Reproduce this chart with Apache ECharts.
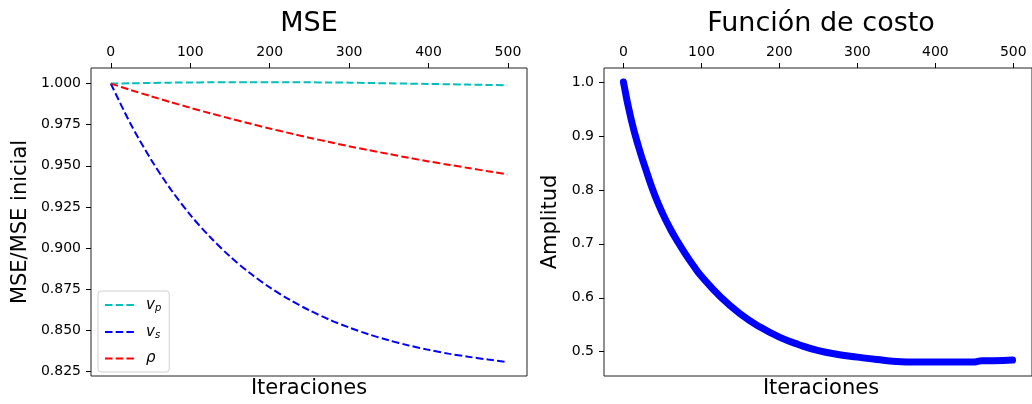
<!DOCTYPE html>
<html>
<head>
<meta charset="utf-8">
<script src="https://cdn.jsdelivr.net/npm/echarts@6/dist/echarts.min.js"></script>
<style>
  html, body { margin: 0; padding: 0; background: #fff; }
  #chart { width: 1032px; height: 404px; }
</style>
</head>
<body>
<div id="chart"></div>
<script>
// ---- data ----
const xTicks = [0, 100, 200, 300, 400, 500];
const yTicksLeft = [0.825, 0.850, 0.875, 0.900, 0.925, 0.950, 0.975, 1.000];
const yTicksRight = [0.5, 0.6, 0.7, 0.8, 0.9, 1.0];

const iterLeft = [0, 25, 50, 75, 100, 125, 150, 175, 200, 225, 250, 275, 300, 325, 350, 375, 400, 425, 450, 475, 499];
const vpVals  = [1.0000, 1.0002, 1.0004, 1.0006, 1.0007, 1.0008, 1.0009, 1.0009, 1.0009, 1.0009, 1.0008, 1.0007, 1.0006, 1.0004, 1.0002, 1.0000, 0.9998, 0.9996, 0.9994, 0.9992, 0.9990];
const vsVals  = [1.0000, 0.9754, 0.9543, 0.9360, 0.9202, 0.9067, 0.8949, 0.8848, 0.8761, 0.8686, 0.8621, 0.8565, 0.8517, 0.8475, 0.8439, 0.8408, 0.8381, 0.8358, 0.8339, 0.8322, 0.8307];
const rhoVals = [1.0000, 0.9961, 0.9924, 0.9888, 0.9853, 0.9820, 0.9788, 0.9757, 0.9727, 0.9699, 0.9671, 0.9645, 0.9619, 0.9595, 0.9572, 0.9549, 0.9527, 0.9507, 0.9487, 0.9467, 0.9449];

const iterRight = [0, 10, 20, 30, 40, 50, 60, 70, 80, 90, 100, 125, 150, 175, 200, 225, 250, 275, 300, 325, 350, 375, 400, 425, 450, 460, 475, 499];
const costVals  = [1.000, 0.930, 0.877, 0.832, 0.791, 0.757, 0.728, 0.703, 0.680, 0.659, 0.640, 0.601, 0.570, 0.546, 0.527, 0.513, 0.502, 0.495, 0.490, 0.4855, 0.482, 0.481, 0.481, 0.481, 0.481, 0.4835, 0.4835, 0.4845];

const titles = ['MSE', 'Función de costo'];
const xName = 'Iteraciones';
const yNames = ['MSE/MSE inicial', 'Amplitud'];

// ---- chart ----
const FONT = 'DejaVu Sans';
const pair = (xs, ys) => xs.map((x, i) => [x, ys[i]]);

const chart = echarts.init(document.getElementById('chart'), null, { renderer: 'canvas' });

function xAxisTop(gridIndex) {
  return {
    type: 'value', gridIndex, position: 'top',
    min: -24.95, max: 523.95,
    axisLine: { show: false, onZero: false },
    splitLine: { show: false },
    axisTick: { show: true, length: 5, customValues: xTicks, lineStyle: { color: '#000', width: 1 } },
    axisLabel: { customValues: xTicks, margin: 9, color: '#000', fontSize: 14, fontFamily: FONT }
  };
}
function yAxisLeft(gridIndex, min, max, ticks, dec) {
  return {
    type: 'value', gridIndex, position: 'left',
    min, max,
    axisLine: { show: false, onZero: false },
    splitLine: { show: false },
    axisTick: { show: true, length: 5, customValues: ticks, lineStyle: { color: '#000', width: 1 } },
    axisLabel: { customValues: ticks, margin: 10, color: '#000', fontSize: 14, fontFamily: FONT,
                 formatter: v => v.toFixed(dec) }
  };
}

const dashed = [7.5, 3.2];

const option = {
  backgroundColor: '#fff',
  animation: false,
  grid: [
    { left: 91, top: 68, width: 436, height: 308, show: true, borderColor: '#222', borderWidth: 1, backgroundColor: 'transparent' },
    { left: 604, top: 68, width: 434, height: 308, show: true, borderColor: '#222', borderWidth: 1, backgroundColor: 'transparent' }
  ],
  xAxis: [xAxisTop(0), xAxisTop(1)],
  yAxis: [
    yAxisLeft(0, 0.8222, 1.0095, yTicksLeft, 3),
    yAxisLeft(1, 0.455, 1.026, yTicksRight, 1)
  ],
  legend: {
    orient: 'vertical',
    left: 98, top: 291,
    data: ['vp', 'vs', 'rho'],
    itemWidth: 30, itemHeight: 14, itemGap: 11,
    padding: [6, 8, 6, 6],
    backgroundColor: 'rgba(255,255,255,0.8)',
    borderColor: '#d0d0d0', borderWidth: 1, borderRadius: 3,
    itemStyle: { opacity: 0 },
    formatter: function (name) {
      if (name === 'vp') return '{v|v}{s|p}';
      if (name === 'vs') return '{v|v}{s|s}';
      return '{v|ρ}';
    },
    textStyle: {
      color: '#000', fontFamily: FONT, lineHeight: 14,
      rich: {
        v: { fontStyle: 'italic', fontSize: 15, fontFamily: FONT, color: '#000', lineHeight: 14, padding: [0, 0, 0, 6] },
        s: { fontStyle: 'italic', fontSize: 10, fontFamily: FONT, color: '#000', lineHeight: 14, padding: [6, 0, 0, 0] }
      }
    }
  },
  series: [
    { name: 'vp', type: 'line', xAxisIndex: 0, yAxisIndex: 0, data: pair(iterLeft, vpVals),
      symbol: 'none', smooth: 0.3, color: '#00bfbf', lineStyle: { color: '#00bfbf', width: 2, type: dashed } },
    { name: 'vs', type: 'line', xAxisIndex: 0, yAxisIndex: 0, data: pair(iterLeft, vsVals),
      symbol: 'none', smooth: 0.3, color: '#0000ff', lineStyle: { color: '#0000ff', width: 2, type: dashed } },
    { name: 'rho', type: 'line', xAxisIndex: 0, yAxisIndex: 0, data: pair(iterLeft, rhoVals),
      symbol: 'none', smooth: 0.3, color: '#ff0000', lineStyle: { color: '#ff0000', width: 2, type: dashed } },
    { name: 'cost', type: 'line', xAxisIndex: 1, yAxisIndex: 1, data: pair(iterRight, costVals),
      symbol: 'none', smooth: 0.5, color: '#0000ff', lineStyle: { color: '#0000ff', width: 7, cap: 'round', join: 'round' } }
  ],
  graphic: [
    { type: 'text', x: 309, y: 24, style: { text: titles[0], font: '27px "DejaVu Sans"', fill: '#000', align: 'center', verticalAlign: 'middle' } },
    { type: 'text', x: 821, y: 24, style: { text: titles[1], font: '27px "DejaVu Sans"', fill: '#000', align: 'center', verticalAlign: 'middle' } },
    { type: 'text', x: 309, y: 389, style: { text: xName, font: '21px "DejaVu Sans"', fill: '#000', align: 'center', verticalAlign: 'middle' } },
    { type: 'text', x: 821, y: 389, style: { text: xName, font: '21px "DejaVu Sans"', fill: '#000', align: 'center', verticalAlign: 'middle' } },
    { type: 'text', x: 21, y: 222, rotation: Math.PI / 2, style: { text: yNames[0], font: '21px "DejaVu Sans"', fill: '#000', align: 'center', verticalAlign: 'middle' } },
    { type: 'text', x: 551, y: 222, rotation: Math.PI / 2, style: { text: yNames[1], font: '21px "DejaVu Sans"', fill: '#000', align: 'center', verticalAlign: 'middle' } }
  ]
};
chart.setOption(option);
</script>
</body>
</html>
